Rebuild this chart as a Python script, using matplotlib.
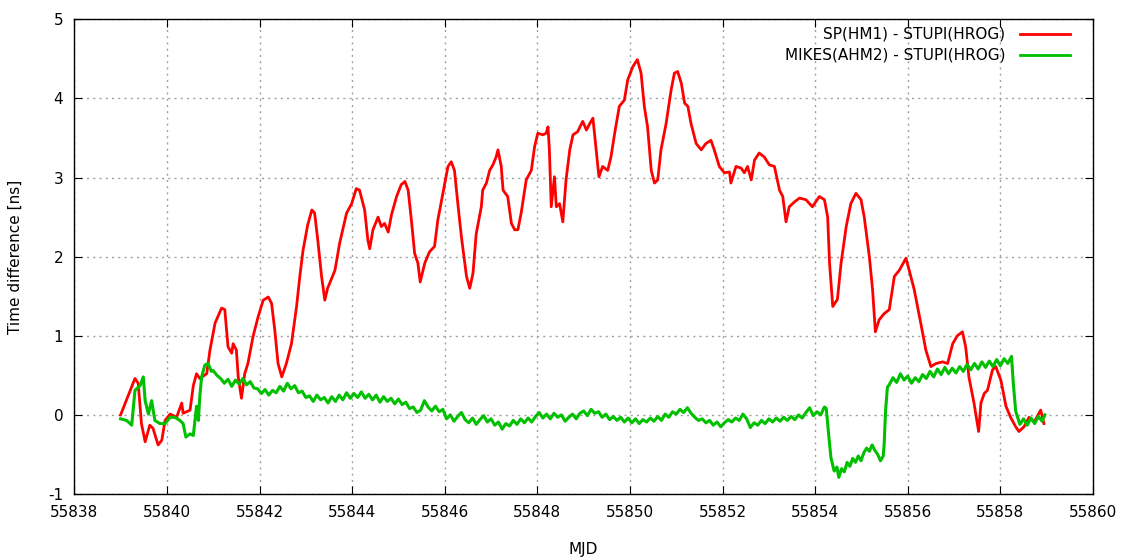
import matplotlib
matplotlib.use("Agg")
import matplotlib.pyplot as plt

plt.rcParams["axes.unicode_minus"] = False

# ---- data (MJD, ns) ----
red_mjd = [55839.00, 55839.31, 55839.38, 55839.45, 55839.53, 55839.63, 55839.70, 55839.81, 55839.89, 55839.96,
           55840.07, 55840.21, 55840.32, 55840.35, 55840.50, 55840.57, 55840.64, 55840.71, 55840.86, 55840.93,
           55841.04, 55841.18, 55841.25, 55841.32, 55841.40, 55841.43, 55841.50, 55841.54, 55841.61, 55841.68,
           55841.75, 55841.86, 55841.97, 55842.08, 55842.19, 55842.26, 55842.33, 55842.40, 55842.48, 55842.58,
           55842.69, 55842.80, 55842.87, 55842.94, 55843.04, 55843.13, 55843.19, 55843.26, 55843.34, 55843.41,
           55843.47, 55843.52, 55843.63, 55843.73, 55843.88, 55843.99, 55844.09, 55844.16, 55844.27, 55844.34,
           55844.38, 55844.45, 55844.56, 55844.63, 55844.70, 55844.78, 55844.85, 55844.96, 55845.06, 55845.14,
           55845.21, 55845.28, 55845.35, 55845.42, 55845.47, 55845.57, 55845.67, 55845.78, 55845.85, 55845.96,
           55846.07, 55846.14, 55846.21, 55846.29, 55846.36, 55846.47, 55846.54, 55846.61, 55846.68, 55846.79,
           55846.82, 55846.90, 55846.97, 55847.04, 55847.11, 55847.15, 55847.22, 55847.26, 55847.36, 55847.44,
           55847.51, 55847.58, 55847.65, 55847.76, 55847.87, 55847.94, 55848.01, 55848.12, 55848.19, 55848.23,
           55848.26, 55848.30, 55848.37, 55848.41, 55848.48, 55848.55, 55848.62, 55848.70, 55848.77, 55848.87,
           55848.98, 55849.06, 55849.13, 55849.20, 55849.27, 55849.33, 55849.41, 55849.52, 55849.59, 55849.67,
           55849.77, 55849.88, 55849.95, 55850.06, 55850.16, 55850.24, 55850.31, 55850.38, 55850.46, 55850.53,
           55850.60, 55850.67, 55850.78, 55850.89, 55850.96, 55851.03, 55851.11, 55851.18, 55851.25, 55851.32,
           55851.43, 55851.54, 55851.64, 55851.75, 55851.82, 55851.93, 55852.04, 55852.15, 55852.18, 55852.29,
           55852.40, 55852.47, 55852.54, 55852.62, 55852.69, 55852.79, 55852.90, 55853.01, 55853.12, 55853.23,
           55853.30, 55853.37, 55853.44, 55853.55, 55853.66, 55853.80, 55853.94, 55854.09, 55854.20, 55854.27,
           55854.31, 55854.38, 55854.48, 55854.56, 55854.67, 55854.77, 55854.88, 55854.99, 55855.06, 55855.17,
           55855.24, 55855.30, 55855.38, 55855.49, 55855.60, 55855.71, 55855.82, 55855.96, 55856.03, 55856.14,
           55856.28, 55856.39, 55856.50, 55856.61, 55856.75, 55856.86, 55856.97, 55857.07, 55857.18, 55857.25,
           55857.32, 55857.43, 55857.53, 55857.58, 55857.65, 55857.72, 55857.83, 55857.90, 55858.01, 55858.12,
           55858.22, 55858.33, 55858.40, 55858.51, 55858.62, 55858.73, 55858.87, 55858.94]
red_ns = [0.00, 0.46, 0.40, -0.11, -0.34, -0.13, -0.17, -0.38, -0.32, -0.07,
          0.01, -0.03, 0.15, 0.02, 0.06, 0.37, 0.52, 0.46, 0.52, 0.82,
          1.16, 1.35, 1.33, 0.86, 0.78, 0.90, 0.82, 0.48, 0.21, 0.52,
          0.65, 0.99, 1.24, 1.45, 1.49, 1.41, 1.07, 0.65, 0.48, 0.65,
          0.90, 1.37, 1.75, 2.08, 2.40, 2.59, 2.55, 2.20, 1.75, 1.45,
          1.60, 1.67, 1.83, 2.17, 2.55, 2.67, 2.86, 2.84, 2.59, 2.21,
          2.10, 2.34, 2.50, 2.38, 2.42, 2.31, 2.53, 2.76, 2.91, 2.95,
          2.84, 2.46, 2.04, 1.92, 1.68, 1.92, 2.06, 2.13, 2.46, 2.80,
          3.14, 3.20, 3.09, 2.63, 2.25, 1.75, 1.60, 1.79, 2.29, 2.63,
          2.84, 2.93, 3.09, 3.16, 3.26, 3.35, 3.14, 2.84, 2.76, 2.42,
          2.34, 2.34, 2.55, 2.97, 3.09, 3.39, 3.56, 3.54, 3.56, 3.64,
          3.35, 2.63, 3.01, 2.63, 2.67, 2.44, 2.97, 3.35, 3.54, 3.58,
          3.71, 3.60, 3.68, 3.75, 3.35, 3.01, 3.14, 3.09, 3.26, 3.56,
          3.90, 3.98, 4.23, 4.40, 4.49, 4.32, 3.90, 3.64, 3.09, 2.93,
          2.97, 3.35, 3.68, 4.11, 4.32, 4.34, 4.19, 3.94, 3.90, 3.68,
          3.43, 3.35, 3.43, 3.47, 3.35, 3.14, 3.06, 3.07, 2.93, 3.14,
          3.12, 3.06, 3.14, 2.97, 3.22, 3.31, 3.26, 3.16, 3.14, 2.84,
          2.76, 2.44, 2.63, 2.69, 2.74, 2.72, 2.63, 2.76, 2.72, 2.50,
          1.92, 1.37, 1.46, 1.92, 2.38, 2.67, 2.80, 2.72, 2.50, 2.00,
          1.58, 1.05, 1.20, 1.28, 1.33, 1.75, 1.83, 1.98, 1.83, 1.58,
          1.16, 0.82, 0.61, 0.65, 0.67, 0.65, 0.90, 1.00, 1.05, 0.86,
          0.48, 0.15, -0.21, 0.15, 0.27, 0.31, 0.57, 0.61, 0.44, 0.11,
          -0.03, -0.15, -0.21, -0.15, -0.03, -0.09, 0.06, -0.11]

green_mjd = [55839.00, 55839.13, 55839.24, 55839.31, 55839.42, 55839.49, 55839.53, 55839.60, 55839.67, 55839.74,
             55839.85, 55839.96, 55840.07, 55840.17, 55840.28, 55840.35, 55840.41, 55840.50, 55840.57, 55840.64,
             55840.68, 55840.71, 55840.75, 55840.82, 55840.89, 55840.96,
             55841.00, 55841.08, 55841.16, 55841.24, 55841.32, 55841.40, 55841.48, 55841.56, 55841.64, 55841.72,
             55841.80, 55841.88, 55841.96, 55842.04, 55842.12, 55842.20, 55842.28, 55842.36, 55842.44, 55842.52,
             55842.60, 55842.68, 55842.76, 55842.84, 55842.92, 55843.00, 55843.08, 55843.16, 55843.24, 55843.32,
             55843.40, 55843.48, 55843.56, 55843.64, 55843.72, 55843.80, 55843.88, 55843.96, 55844.04, 55844.12,
             55844.20, 55844.28, 55844.36, 55844.44, 55844.52, 55844.60, 55844.68, 55844.76, 55844.84, 55844.92,
             55845.00, 55845.08, 55845.16, 55845.24, 55845.32, 55845.40, 55845.48, 55845.56, 55845.64, 55845.72,
             55845.80, 55845.88, 55845.96, 55846.04, 55846.12, 55846.20, 55846.28, 55846.36, 55846.44, 55846.52,
             55846.60, 55846.68, 55846.76, 55846.84, 55846.92, 55847.00, 55847.08, 55847.16, 55847.24, 55847.32,
             55847.40, 55847.48, 55847.56, 55847.64, 55847.72, 55847.80, 55847.88, 55847.96, 55848.04, 55848.12,
             55848.20, 55848.28, 55848.36, 55848.44, 55848.52, 55848.60, 55848.68, 55848.76, 55848.84, 55848.92,
             55849.00, 55849.08, 55849.16, 55849.24, 55849.32, 55849.40, 55849.48, 55849.56, 55849.64, 55849.72,
             55849.80, 55849.88, 55849.96, 55850.04, 55850.12, 55850.20, 55850.28, 55850.36, 55850.44, 55850.52,
             55850.60, 55850.68, 55850.76, 55850.84, 55850.92, 55851.00, 55851.08, 55851.16, 55851.24, 55851.32,
             55851.40, 55851.48, 55851.56, 55851.64, 55851.72, 55851.80, 55851.88, 55851.96, 55852.04, 55852.12,
             55852.20, 55852.28, 55852.36, 55852.44, 55852.52, 55852.60, 55852.68, 55852.76, 55852.84, 55852.92,
             55853.00, 55853.08, 55853.16, 55853.24, 55853.32, 55853.40, 55853.48, 55853.56, 55853.64, 55853.72,
             55853.80, 55853.88, 55853.96, 55854.04, 55854.12, 55854.20,
             55854.24, 55854.29, 55854.34, 55854.41, 55854.47, 55854.51, 55854.57, 55854.63, 55854.69, 55854.75,
             55854.81, 55854.87, 55854.93, 55854.99, 55855.05, 55855.11, 55855.17, 55855.23, 55855.29, 55855.35,
             55855.41, 55855.47, 55855.49, 55855.52, 55855.56,
             55855.60, 55855.68, 55855.76, 55855.84, 55855.92, 55856.00, 55856.08, 55856.16, 55856.24, 55856.32,
             55856.40, 55856.48, 55856.56, 55856.64, 55856.72, 55856.80, 55856.88, 55856.96, 55857.04, 55857.12,
             55857.20, 55857.28, 55857.36, 55857.44, 55857.52, 55857.60, 55857.68, 55857.76, 55857.84, 55857.92,
             55858.00, 55858.08, 55858.16, 55858.24,
             55858.28, 55858.33, 55858.42, 55858.50, 55858.58, 55858.66, 55858.74, 55858.82, 55858.90, 55858.96]
green_ns = [-0.05, -0.07, -0.13, 0.31, 0.37, 0.48, 0.18, 0.01, 0.18, -0.07,
            -0.11, -0.11, -0.03, -0.03, -0.07, -0.11, -0.28, -0.24, -0.26, 0.11,
            -0.07, 0.23, 0.48, 0.63, 0.65, 0.55,
            0.56, 0.50, 0.46, 0.40, 0.45, 0.36, 0.44, 0.39, 0.46, 0.38,
            0.42, 0.34, 0.33, 0.27, 0.32, 0.25, 0.31, 0.28, 0.36, 0.30,
            0.40, 0.33, 0.37, 0.28, 0.30, 0.22, 0.24, 0.17, 0.25, 0.19,
            0.22, 0.15, 0.23, 0.17, 0.25, 0.19, 0.28, 0.21, 0.27, 0.22,
            0.29, 0.21, 0.26, 0.19, 0.25, 0.16, 0.23, 0.17, 0.21, 0.14,
            0.20, 0.13, 0.16, 0.08, 0.10, 0.03, 0.06, 0.18, 0.10, 0.05,
            0.11, 0.04, 0.07, -0.05, 0.00, -0.08, -0.02, 0.03, -0.06, -0.10,
            -0.04, -0.12, -0.06, -0.01, -0.09, -0.05, -0.13, -0.09, -0.18, -0.11,
            -0.14, -0.07, -0.12, -0.05, -0.10, -0.04, -0.09, -0.02, 0.03, -0.04,
            0.01, -0.05, 0.02, -0.03, 0.00, -0.08, -0.03, 0.01, -0.05, 0.02,
            0.05, -0.01, 0.07, 0.02, 0.04, -0.03, 0.01, -0.06, -0.02, -0.07,
            -0.03, -0.09, -0.04, -0.10, -0.05, -0.11, -0.06, -0.09, -0.04, -0.08,
            -0.02, -0.07, 0.01, -0.03, 0.04, 0.01, 0.07, 0.03, 0.09, 0.02,
            -0.03, -0.07, -0.05, -0.10, -0.07, -0.13, -0.09, -0.15, -0.10, -0.06,
            -0.09, -0.04, -0.07, 0.01, -0.05, -0.16, -0.10, -0.13, -0.07, -0.11,
            -0.05, -0.09, -0.04, -0.08, -0.03, -0.07, -0.02, -0.06, 0.00, -0.04,
            0.03, 0.09, -0.01, 0.04, 0.00, 0.10,
            0.08, -0.24, -0.54, -0.71, -0.66, -0.79, -0.68, -0.72, -0.60, -0.65,
            -0.55, -0.60, -0.52, -0.58, -0.48, -0.42, -0.46, -0.38, -0.45, -0.50,
            -0.58, -0.52, -0.37, 0.05, 0.35,
            0.38, 0.47, 0.41, 0.52, 0.44, 0.49, 0.40, 0.47, 0.42, 0.51,
            0.46, 0.55, 0.48, 0.58, 0.51, 0.60, 0.52, 0.59, 0.53, 0.61,
            0.55, 0.64, 0.57, 0.65, 0.58, 0.67, 0.60, 0.68, 0.61, 0.70,
            0.62, 0.71, 0.65, 0.74,
            0.39, 0.05, -0.12, -0.05, -0.13, -0.04, -0.11, -0.02, -0.08, 0.00]

series_labels = ["SP(HM1) - STUPI(HROG)", "MIKES(AHM2) - STUPI(HROG)"]
series_colors = ["#ff0000", "#00c000"]
x_ticks = list(range(55838, 55861, 2))
y_ticks = list(range(-1, 6))

fig = plt.figure(figsize=(11.21, 5.58), dpi=100)
ax = fig.add_axes([74.3 / 1121, 1 - 494 / 558, (1093 - 74.3) / 1121, (494 - 19.3) / 558])

ax.plot(red_mjd, red_ns, color=series_colors[0], lw=2.0)
ax.plot(green_mjd, green_ns, color=series_colors[1], lw=2.2)

ax.set_xlim(55838, 55860)
ax.set_ylim(-1, 5)
ax.set_xticks(x_ticks)
ax.set_yticks(y_ticks)
ax.set_xticklabels([str(t) for t in x_ticks])
ax.grid(True, color="#a0a0a0", linestyle=(0, (1.5, 3)), linewidth=1.0)
ax.tick_params(direction="in", length=6, width=0.8, top=True, right=True,
               labelsize=11, colors="black", pad=8)
for sp in ax.spines.values():
    sp.set_linewidth(1.0)

ax.set_xlabel("MJD", fontsize=11, labelpad=16)
ax.set_ylabel("Time difference [ns]", fontsize=11, labelpad=18)

# legend drawn by hand: right-aligned text, sample line to the right
leg_y = [0.968, 0.924]
for lab, col, yy in zip(series_labels, series_colors, leg_y):
    ax.text(0.914, yy, lab, transform=ax.transAxes, ha="right", va="center", fontsize=11)
    ax.plot([0.928, 0.977], [yy, yy], transform=ax.transAxes, color=col, lw=2.0)

fig.savefig("out.png", dpi=100)
